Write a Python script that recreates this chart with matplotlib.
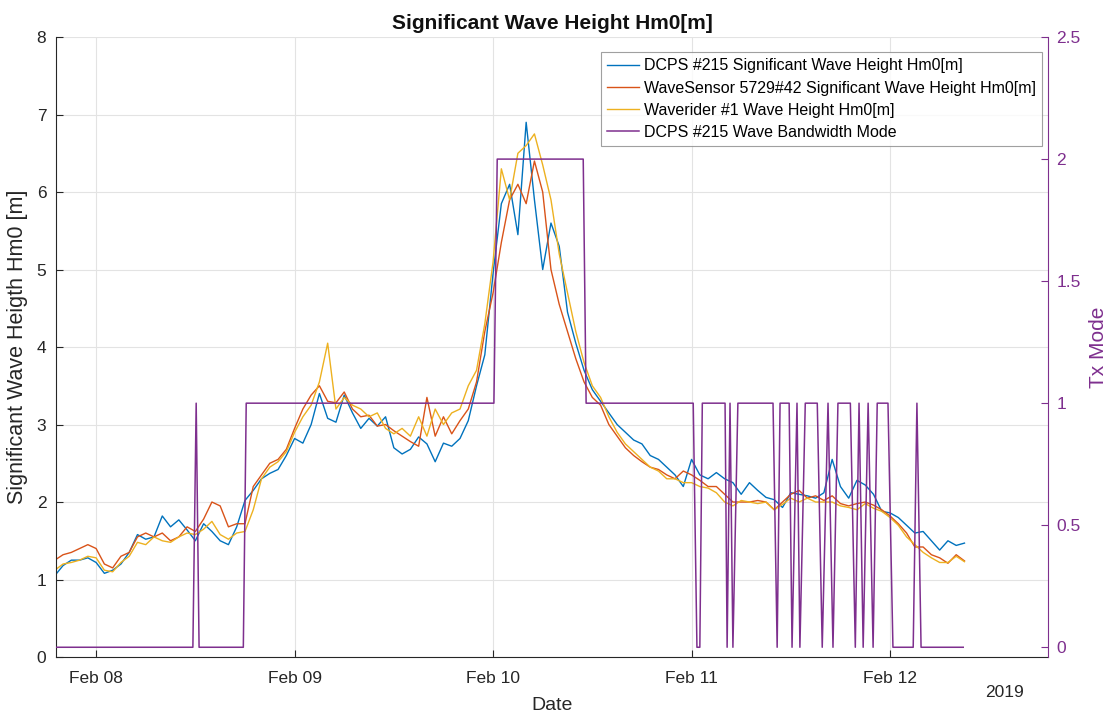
import numpy as np
import pandas as pd
import matplotlib
matplotlib.use("Agg")
import matplotlib.pyplot as plt
import matplotlib.dates as mdates

plt.rcParams['font.family'] = ['Liberation Sans', 'DejaVu Sans']

# time base: hours after 2019-02-07 19:00
start = pd.Timestamp("2019-02-07 19:00")
hours = np.arange(0, 111)

dcps_hm0 = [1.05, 1.18, 1.25, 1.25, 1.28, 1.22, 1.08, 1.12, 1.20, 1.35,
            1.58, 1.52, 1.55, 1.82, 1.68, 1.77, 1.64, 1.50, 1.72, 1.62,
            1.50, 1.45, 1.68, 2.02, 2.15, 2.30, 2.37, 2.42, 2.60, 2.82,
            2.76, 3.00, 3.40, 3.08, 3.03, 3.38, 3.15, 2.95, 3.08, 2.98,
            3.10, 2.70, 2.62, 2.68, 2.84, 2.75, 2.52, 2.76, 2.72, 2.82,
            3.05, 3.50, 3.90, 4.95, 5.85, 6.10, 5.45, 6.90, 5.90, 5.00,
            5.60, 5.30, 4.45, 4.05, 3.70, 3.45, 3.30, 3.15, 3.00, 2.90,
            2.80, 2.75, 2.60, 2.55, 2.45, 2.35, 2.20, 2.55, 2.35, 2.30,
            2.38, 2.30, 2.25, 2.10, 2.25, 2.15, 2.06, 2.03, 1.93, 2.12,
            2.10, 2.08, 2.05, 2.12, 2.55, 2.20, 2.05, 2.28, 2.22, 2.10,
            1.88, 1.86, 1.80, 1.70, 1.60, 1.62, 1.50, 1.38, 1.50, 1.44,
            1.47]

sensor_hm0 = [1.25, 1.32, 1.35, 1.40, 1.45, 1.40, 1.20, 1.15, 1.30, 1.35,
              1.55, 1.60, 1.55, 1.60, 1.50, 1.55, 1.68, 1.62, 1.78, 2.00,
              1.95, 1.68, 1.72, 1.72, 2.20, 2.35, 2.50, 2.55, 2.68, 2.95,
              3.20, 3.38, 3.50, 3.30, 3.28, 3.42, 3.20, 3.10, 3.12, 2.98,
              3.00, 2.92, 2.85, 2.78, 2.72, 3.35, 2.85, 3.10, 2.88, 3.05,
              3.20, 3.55, 4.20, 4.70, 5.35, 5.90, 6.10, 5.85, 6.40, 6.00,
              5.00, 4.55, 4.20, 3.85, 3.55, 3.35, 3.25, 3.00, 2.85, 2.70,
              2.60, 2.52, 2.45, 2.42, 2.35, 2.30, 2.40, 2.35, 2.28, 2.20,
              2.20, 2.10, 2.00, 2.00, 2.00, 2.02, 2.00, 1.90, 2.00, 2.10,
              2.15, 2.05, 2.08, 2.02, 2.08, 1.98, 1.95, 1.98, 2.00, 1.96,
              1.90, 1.82, 1.72, 1.60, 1.42, 1.42, 1.32, 1.28, 1.21, 1.32,
              1.24]

waverider_hm0 = [1.12, 1.20, 1.22, 1.25, 1.30, 1.28, 1.12, 1.10, 1.22, 1.30,
                 1.48, 1.45, 1.55, 1.50, 1.48, 1.55, 1.60, 1.58, 1.65, 1.75,
                 1.58, 1.52, 1.60, 1.62, 1.90, 2.30, 2.45, 2.52, 2.65, 2.90,
                 3.10, 3.25, 3.55, 4.05, 3.20, 3.35, 3.25, 3.20, 3.10, 3.15,
                 2.95, 2.88, 2.95, 2.85, 3.10, 2.85, 3.20, 3.00, 3.15, 3.20,
                 3.50, 3.70, 4.30, 5.10, 6.30, 5.90, 6.50, 6.60, 6.75, 6.35,
                 5.90, 5.20, 4.70, 4.20, 3.80, 3.50, 3.35, 3.10, 2.90, 2.75,
                 2.65, 2.55, 2.45, 2.40, 2.30, 2.30, 2.25, 2.25, 2.20, 2.18,
                 2.12, 2.00, 1.95, 2.02, 2.00, 1.98, 2.00, 1.90, 1.97, 2.05,
                 2.00, 2.05, 2.00, 2.00, 2.00, 1.95, 1.93, 1.90, 1.98, 1.92,
                 1.88, 1.80, 1.70, 1.55, 1.45, 1.35, 1.28, 1.22, 1.22, 1.30,
                 1.23]

# bandwidth mode, switching points (hours after start)
mode_hours = [0.2, 16.7, 17.1, 17.45, 22.8, 23.15, 53.1, 53.5, 63.9, 64.25,
              77.2, 77.65, 78.0, 78.3, 81.05, 81.3, 81.65, 82.0, 82.6,
              86.85, 87.35, 87.7, 88.8, 89.15, 89.75, 90.1, 90.75,
              92.2, 92.8, 93.5, 94.1, 94.7, 96.2, 96.8, 97.25, 97.75,
              98.35, 98.95, 99.45, 100.75, 101.35, 103.8, 104.25, 104.75, 109.85]
mode_vals = [0, 0, 1, 0, 0, 1, 1, 2, 2, 1,
             1, 0, 0, 1, 1, 0, 1, 0, 1,
             1, 0, 1, 1, 0, 1, 0, 1,
             1, 0, 1, 0, 1, 1, 0, 1, 0,
             1, 0, 1, 1, 0, 0, 1, 0, 0]

labels = ["DCPS #215 Significant Wave Height Hm0[m]",
          "WaveSensor 5729#42 Significant Wave Height Hm0[m]",
          "Waverider #1 Wave Height Hm0[m]",
          "DCPS #215 Wave Bandwidth Mode"]
colors = ["#0072BD", "#D95319", "#EDB120", "#7E2F8E"]

t = start + pd.to_timedelta(hours, unit="h")
tm = start + pd.to_timedelta(mode_hours, unit="h")

fig = plt.figure(figsize=(11.09, 7.14), dpi=100)
ax = fig.add_axes([0.0505, 0.0798, 0.8945, 0.8683])
ax2 = ax.twinx()

dark = "#262626"
l1, = ax.plot(t, dcps_hm0, color=colors[0], lw=1.0)
l2, = ax.plot(t, sensor_hm0, color=colors[1], lw=1.0)
l3, = ax.plot(t, waverider_hm0, color=colors[2], lw=1.0)
l4, = ax2.plot(tm, mode_vals, color=colors[3], lw=1.1)

ax.set_xlim(start + pd.Timedelta(hours=0.15), start + pd.Timedelta(hours=120.1))
ax.set_ylim(0, 8)
ax2.set_ylim(-0.04, 2.5)
ax2.set_yticks([0, 0.5, 1, 1.5, 2, 2.5])
ax2.set_yticklabels(["0", "0.5", "1", "1.5", "2", "2.5"])

ax.xaxis.set_major_locator(mdates.DayLocator())
ax.xaxis.set_major_formatter(mdates.DateFormatter("%b %d"))

ax.grid(True, color="#e3e3e3", lw=0.8)
ax.set_axisbelow(True)

for a in (ax, ax2):
    a.spines['top'].set_visible(False)
ax.spines['left'].set_color(dark)
ax.spines['bottom'].set_color(dark)
ax.spines['right'].set_visible(False)
ax2.spines['left'].set_visible(False)
ax2.spines['bottom'].set_visible(False)
ax2.spines['right'].set_color(colors[3])

ax.tick_params(direction="in", length=5, colors=dark, labelsize=12.5, pad=7)
ax.tick_params(axis="x", pad=10)
ax2.tick_params(direction="in", length=5, colors=colors[3], labelsize=12.5, pad=6)

ax.set_title("Significant Wave Height Hm0[m]", fontsize=15, fontweight="bold",
             color="#111111", pad=6)
ax.set_xlabel("Date", fontsize=14, color=dark, labelpad=8)
ax.set_ylabel("Significant Wave Heigth Hm0 [m]", fontsize=15.5, color=dark, labelpad=6)
ax2.set_ylabel("Tx Mode", fontsize=15, color=colors[3], labelpad=6)
ax.text(0.976, -0.045, "2019", transform=ax.transAxes, ha="right", va="top",
        fontsize=12.5, color=dark)

leg = ax2.legend([l1, l2, l3, l4], labels, loc="upper right",
                 bbox_to_anchor=(0.994, 0.976), borderaxespad=0, fontsize=11.5,
                 frameon=True, fancybox=False, edgecolor="#888888",
                 handlelength=2.0, handletextpad=0.3, borderpad=0.4,
                 labelspacing=0.45)
leg.get_frame().set_linewidth(0.8)

fig.savefig("out.png", dpi=100)
